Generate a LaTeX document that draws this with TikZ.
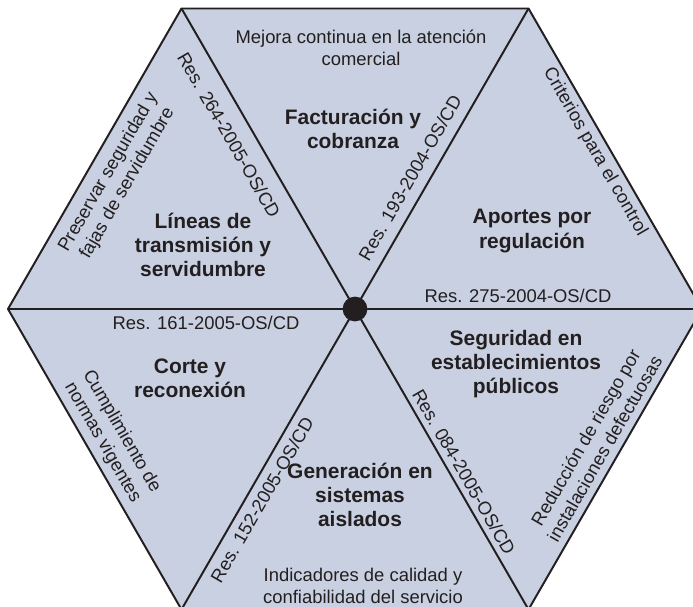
\documentclass[tikz,border=0pt]{standalone}
\usepackage{fontspec}
\setmainfont{Liberation Sans}
\definecolor{relleno}{RGB}{200,208,225}
\definecolor{tinta}{RGB}{35,31,32}

\begin{document}
\begin{tikzpicture}
% Definición de estilos
\tikzset{
  titulo/.style={text=tinta, align=center, inner sep=0pt, font=\fontsize{14.9}{17.1}\selectfont\bfseries},
  texto/.style={text=tinta, align=center, inner sep=0pt, font=\fontsize{13.1}{15.6}\selectfont},
  borde/.style={draw=tinta, line width=1.4pt, line join=round}
}
\useasboundingbox (-8.875,-7.425) rectangle (8.45,7.725);

% Vértices del hexágono
\coordinate (c) at (0,0);
\coordinate (v0) at (0:8.675);
\coordinate (v1) at (60:8.675);
\coordinate (v2) at (120:8.675);
\coordinate (v3) at (180:8.675);
\coordinate (v4) at (240:8.675);
\coordinate (v5) at (300:8.675);

\fill[relleno] (v0) -- (v1) -- (v2) -- (v3) -- (v4) -- (v5) -- cycle;
\draw[borde] (v0) -- (v1) -- (v2) -- (v3) -- (v4) -- (v5) -- cycle;

% Radios
\draw[borde] (c) -- (v0);
\draw[borde] (c) -- (v1);
\draw[borde] (c) -- (v2);
\draw[borde] (c) -- (v3);
\draw[borde] (c) -- (v4);
\draw[borde] (c) -- (v5);
\node[circle, fill=tinta, minimum size=0.62cm, inner sep=0pt] (centro) at (c) {};

% Facturación y cobranza
\node[texto] (mejora) at (0.15,6.525) {Mejora continua en la atención\\comercial};
\node[titulo] (facturacion) at (-0.05,4.5) {Facturación y\\cobranza};
\node[texto, rotate=60] (res193) at (1.375,3.275) {Res. 193-2004-OS/CD};

% Aportes por regulación
\node[titulo] (aportes) at (4.425,1.95) {Aportes por\\regulación};
\node[texto, rotate=-60] (criterios) at (6.0,3.925) {Criterios para el control};
\node[texto] (res275) at (4.075,0.325) {Res. 275-2004-OS/CD};

% Seguridad en establecimientos públicos
\node[titulo] (seguridad) at (4.025,-1.375) {Seguridad en\\establecimientos\\públicos};
\node[texto, rotate=60] (reduccion) at (6.0,-3.35) {Reducción de riesgo por\\instalaciones defectuosas};
\node[texto, rotate=-60] (res084) at (2.725,-4.075) {Res. 084-2005-OS/CD};

% Generación en sistemas aislados
\node[titulo] (generacion) at (0.125,-4.65) {Generación en\\sistemas\\aislados};
\node[texto] (indicadores) at (0.2,-6.925) {Indicadores de calidad y\\confiabilidad del servicio};
\node[texto, rotate=60] (res152) at (-2.325,-4.775) {Res. 152-2005-OS/CD};

% Corte y reconexión
\node[titulo] (corte) at (-4.125,-1.725) {Corte y\\reconexión};
\node[texto, rotate=-60] (cumplimiento) at (-6.075,-3.2) {Cumplimiento de\\normas vigentes};
\node[texto] (res161) at (-3.725,-0.35) {Res. 161-2005-OS/CD};

% Líneas de transmisión y servidumbre
\node[titulo] (lineas) at (-3.8,1.6) {Líneas de\\transmisión y\\servidumbre};
\node[texto, rotate=60] (preservar) at (-5.925,3.275) {Preservar seguridad y\\fajas de servidumbre};
\node[texto, rotate=-60] (res264) at (-3.15,4.35) {Res. 264-2005-OS/CD};

\end{tikzpicture}
\end{document}
